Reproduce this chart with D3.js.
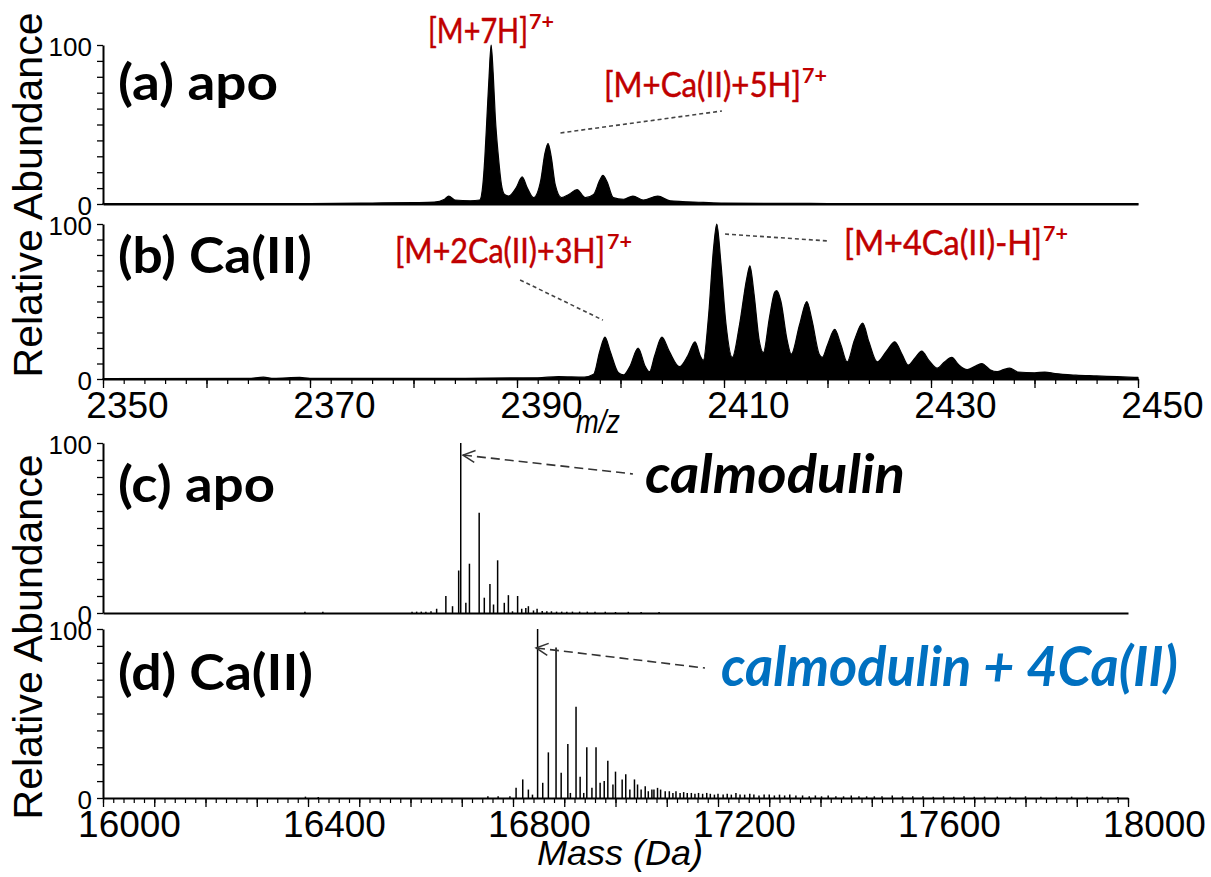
<!DOCTYPE html>
<html><head><meta charset="utf-8">
<script src="https://cdn.jsdelivr.net/npm/d3@7"></script>
<style>
html,body{margin:0;padding:0;background:#fff;}
svg{display:block;background:#fff;}
</style></head><body>
<svg id="chart" width="1211" height="877"></svg>
<script>
// ---------------- DATA ----------------
// (a) apo, profile spectrum [m/z, relative abundance %]
const apoProfile = [
  [2350,0.2],[2360,0.3],[2370,0.3],[2376,0.6],[2380,0.9],[2382,1.2],[2383.0,3],[2383.4,5],
  [2384.0,2.5],[2385.5,2],[2386.4,2.5],[2386.7,12],[2386.9,30],[2387.1,55],[2387.3,80],[2387.5,100],[2387.7,82],[2387.9,55],
  [2388.2,30],[2388.5,12],[2388.8,6],[2389.2,5],[2389.9,10],[2390.5,17],[2391.0,10],[2391.6,4],
  [2392.3,15],[2392.7,32],[2393.0,38],[2393.3,30],[2393.7,12],[2394.3,4],[2395.0,6],
  [2395.8,9],[2396.6,4],[2397.4,6],[2398.0,15],[2398.3,18],[2398.7,14],[2399.3,4],
  [2400.3,3],[2401.2,5],[2402.2,2.5],[2403.6,5],[2404.8,2],[2406,1.5],[2408,1],
  [2410,0.6],[2420,0.3],[2430,0.2],[2450,0.2]
];
// (b) Ca(II), profile spectrum [m/z, relative abundance %]
const caProfile = [
  [2350,0.3],[2364,0.4],[2365.5,1.2],[2366.5,0.4],[2369,1],[2370,0.4],[2385,0.5],
  [2392,0.8],[2394,1.5],[2396.5,1.2],[2397.4,3],[2398.0,18],[2398.5,27],[2399.0,18],
  [2399.8,4],[2400.3,2.6],[2400.9,8],[2401.7,20],[2402.4,8],[2402.8,4.7],[2403.3,15],
  [2404.0,27],[2404.7,18],[2405.7,8],[2406.5,15],[2407.2,24],[2407.7,15],[2408.0,12],
  [2408.5,40],[2409.0,85],[2409.3,100],[2409.7,75],[2410.2,35],[2410.8,14],[2411.5,35],
  [2412.2,65],[2412.5,73],[2412.9,55],[2413.4,25],[2413.8,17],[2414.4,40],[2414.9,56],
  [2415.1,57],[2415.5,50],[2416.1,25],[2416.5,16],[2417.3,35],[2418.0,50],[2418.5,38],
  [2419.2,16],[2419.5,14],[2420.0,22],[2420.7,32],[2421.3,22],[2421.9,11],[2422.6,25],
  [2423.4,36],[2424.0,24],[2424.8,11],[2425.7,18],[2426.5,24],[2427.2,16],[2427.8,9],
  [2428.5,14],[2429.1,18],[2429.8,12],[2430.6,7],[2431.3,11],[2432.0,14],[2432.7,9],
  [2433.5,6],[2434.2,8],[2434.9,10],[2435.7,6],[2436.4,4.7],[2437.0,6],[2437.6,7],
  [2438.4,4.5],[2440,4],[2441,4.5],[2442,3.5],[2444,2.5],[2446,2],[2448,1.5],[2450,1]
];
// (c) apo, deconvoluted masses [Da, relative abundance %]
const apoMasses = [
  [16394,0.8],[16429,0.8],[16603,0.8],[16612,0.8],[16621,0.8],[16630,0.8],[16640,1],
  [16651,2.5],[16669,10],[16682,4],[16694,25],[16698,100],[16708,6],[16715,29],
  [16734,59],[16744,9],[16755,17],[16762,5],[16770,31],[16783,6],[16791,10.5],
  [16799,1],[16809,10],[16817,2.5],[16825,3],[16830,4],[16840,1.5],[16847,2.5],
  [16857,1.2],[16866,1],[16875,1],[16885,0.8],[16895,0.8],[16905,0.8],[16916,0.8],
  [16930,0.8],[16945,0.8],[16960,0.7],[16980,0.8],[17000,0.6],[17025,0.7],[17050,0.6],[17085,0.6]
];
// (d) Ca(II), deconvoluted masses [Da, relative abundance %]
const caMasses = [
  [16395,0.8],[16420,0.6],[16751,1],[16771,1],[16794,1],[16806,6],[16819,11],[16830,5],
  [16838,2],[16848,100],[16858,9],[16869,27],[16884,89],[16894,15],[16907,32],[16912,3],
  [16923,54],[16931,12.6],[16938,3],[16944,30],[16954,6],[16962,30],[16970,9],[16978,10],
  [16985,22],[16995,8],[17000,15.6],[17013,11],[17020,14],[17028,5],[17037,11],[17043,8],
  [17050,5],[17058,7],[17064,4],[17071,5],[17075,5],[17082,6],[17088,5],[17097,4],
  [17105,4],[17112,3],[17118,4],[17126,3],[17133,3.5],[17140,3],[17148,3],[17155,2.5],
  [17162,3],[17170,2.5],[17178,3],[17185,2.5],[17193,2],[17200,2.5],[17210,2],[17218,2.5],
  [17226,2],[17235,3],[17243,2],[17252,2],[17262,2.5],[17270,2],[17280,1.5],[17290,2],
  [17300,2],[17310,1.5],[17320,2],[17330,1.5],[17340,2],[17352,1.5],[17365,1.5],[17378,1],
  [17390,1.5],[17402,1],[17415,1.5],[17430,1],[17445,1],[17460,1.5],[17475,1],[17490,1],
  [17505,1],[17520,1],[17540,1.5],[17560,1],[17580,1],[17600,1],[17620,0.8],[17640,1],
  [17660,0.8],[17680,1],[17700,0.8],[17720,0.8],[17745,0.8],[17770,0.8],[17800,1],
  [17830,0.8],[17860,0.8],[17890,0.8],[17920,0.8],[17950,0.8],[17980,0.6]
];
const mzTickLabels = [2350, 2370, 2390, 2410, 2430, 2450];
const massTickLabels = [16000, 16400, 16800, 17200, 17600, 18000];
const yTickLabels = [0, 100];
const panelTitles = ["(a) apo", "(b) Ca(II)", "(c) apo", "(d) Ca(II)"];
const ionLabels = ["[M+7H]", "[M+Ca(II)+5H]", "[M+2Ca(II)+3H]", "[M+4Ca(II)-H]"];
const chargeLabel = "7+";
const speciesLabels = ["calmodulin", "calmodulin + 4Ca(II)"];
const axisTitles = ["Relative Abundance", "m/z", "Mass (Da)"];

// ---------------- CHART ----------------
const svg = d3.select("#chart");
const RED = "#c00000", BLUE = "#0070c0";
const NUMFONT = "'Liberation Sans', Arial, sans-serif";
const CAL = "Lato, 'Open Sans', sans-serif";

const xMz = d3.scaleLinear().domain([2350, 2450]).range([103, 1138]);
const xMass = d3.scaleLinear().domain([16000, 18000]).range([103, 1128]);
const yA = d3.scaleLinear().domain([0, 100]).range([204, 45]);
const yB = d3.scaleLinear().domain([0, 100]).range([379, 224]);
const yC = d3.scaleLinear().domain([0, 100]).range([613, 443]);
const yD = d3.scaleLinear().domain([0, 100]).range([798, 629]);

// profile spectra
function profile(data, y) {
  const area = d3.area().curve(d3.curveMonotoneX)
    .x(d => xMz(d[0])).y0(y(0)).y1(d => y(d[1]));
  svg.append("path").datum(data).attr("d", area)
    .attr("fill", "#000").attr("stroke", "#000").attr("stroke-width", 1.2)
    .attr("stroke-linejoin", "round");
}
profile(apoProfile, yA);
profile(caProfile, yB);

// stick spectra
function sticks(data, y) {
  svg.append("g").selectAll("line").data(data).join("line")
    .attr("x1", d => xMass(d[0])).attr("x2", d => xMass(d[0]))
    .attr("y1", y(0)).attr("y2", d => y(d[1]))
    .attr("stroke", "#000").attr("stroke-width", 1.5);
}
sticks(apoMasses, yC);
sticks(caMasses, yD);

// y axes
function yAxis(y) {
  const g = svg.append("g").attr("transform", "translate(103,0)")
    .call(d3.axisLeft(y).tickValues(d3.range(0, 101, 10)).tickSize(6).tickSizeOuter(0)
      .tickPadding(5).tickFormat(d => yTickLabels.includes(d) ? d : ""));
  g.select(".domain").attr("stroke", "#000").attr("stroke-width", 2);
  g.selectAll(".tick line").attr("stroke", "#000").attr("stroke-width", 1.3);
  g.selectAll(".tick text").attr("font-family", NUMFONT).attr("font-size", 26)
    .attr("fill", "#000").attr("dy", "0.42em");
}
[yA, yB, yC, yD].forEach(yAxis);

// x axes
function plainBase(x, y) {
  const g = svg.append("g").attr("transform", `translate(0,${y(0)})`)
    .call(d3.axisBottom(x).tickValues([]).tickSizeOuter(0));
  g.select(".domain").attr("stroke", "#000").attr("stroke-width", 2);
}
plainBase(xMz, yA);
plainBase(xMass, yC);

function tickedAxis(x, y, majorStep, minorStep, labels, dx) {
  const [d0, d1] = x.domain();
  const gMin = svg.append("g").attr("transform", `translate(0,${y(0)})`)
    .call(d3.axisBottom(x).tickValues(d3.range(d0, d1 + 0.001, minorStep)).tickSize(5).tickFormat(""));
  gMin.select(".domain").remove();
  gMin.selectAll(".tick line").attr("stroke", "#000").attr("stroke-width", 1.2);
  const g = svg.append("g").attr("transform", `translate(0,${y(0)})`)
    .call(d3.axisBottom(x).tickValues(d3.range(d0, d1 + 0.001, majorStep)).tickSize(9)
      .tickSizeOuter(0).tickFormat(d => labels.includes(d) ? d : ""));
  g.select(".domain").attr("stroke", "#000").attr("stroke-width", 2);
  g.selectAll(".tick line").attr("stroke", "#000").attr("stroke-width", 1.3);
  g.selectAll(".tick text").attr("font-family", NUMFONT).attr("font-size", 37)
    .attr("fill", "#000").attr("y", 13).attr("dx", dx);
}
tickedAxis(xMz, yB, 10, 2, mzTickLabels, 24);
tickedAxis(xMass, yD, 100, 20, massTickLabels, 26);

// axis titles
[[42, 195], [42, 637]].forEach(([x, cy]) => {
  svg.append("text").attr("transform", `translate(${x},${cy}) rotate(-90)`)
    .attr("text-anchor", "middle").attr("font-family", NUMFONT).attr("font-size", 40)
    .attr("textLength", 365).attr("lengthAdjust", "spacingAndGlyphs")
    .attr("fill", "#000").text(axisTitles[0]);
});
svg.append("text").attr("x", 576).attr("y", 433).attr("font-family", NUMFONT)
  .attr("font-style", "italic").attr("font-size", 34).attr("textLength", 44)
  .attr("lengthAdjust", "spacingAndGlyphs").text(axisTitles[1]);
svg.append("text").attr("x", 537).attr("y", 865).attr("font-family", NUMFONT)
  .attr("font-style", "italic").attr("font-size", 35).attr("textLength", 166)
  .attr("lengthAdjust", "spacingAndGlyphs").text(axisTitles[2]);

// panel titles
[[118, 100, 160], [118, 273, 194], [118, 502, 157], [118, 690, 195]].forEach(([x, y, len], i) => {
  svg.append("text").attr("x", x).attr("y", y).attr("font-family", CAL)
    .attr("font-weight", 700).attr("font-size", 50).attr("textLength", len)
    .attr("lengthAdjust", "spacingAndGlyphs").attr("fill", "#000").text(panelTitles[i]);
});

// ion labels (red) with superscript charge
const ionPos = [
  { x: 428, y: 43, len: 100, sx: 529, sy: 29 },
  { x: 604, y: 97, len: 197, sx: 802, sy: 83 },
  { x: 395, y: 263, len: 210, sx: 607, sy: 249 },
  { x: 844, y: 255, len: 198, sx: 1043, sy: 241 }
];
ionPos.forEach((p, i) => {
  svg.append("text").attr("x", p.x).attr("y", p.y).attr("font-family", CAL)
    .attr("font-size", 35).attr("textLength", p.len).attr("lengthAdjust", "spacingAndGlyphs")
    .attr("stroke", RED).attr("stroke-width", 0.5)
    .attr("fill", RED).text(ionLabels[i]);
  svg.append("text").attr("x", p.sx).attr("y", p.sy).attr("font-family", CAL)
    .attr("font-weight", 700).attr("font-size", 21).attr("textLength", 25)
    .attr("lengthAdjust", "spacingAndGlyphs").attr("fill", RED).text(chargeLabel);
});

// leader lines (data space)
function leader(x, y, p0, p1) {
  svg.append("line").attr("x1", x(p0[0])).attr("y1", y(p0[1]))
    .attr("x2", x(p1[0])).attr("y2", y(p1[1]))
    .attr("stroke", "#444").attr("stroke-width", 1.6).attr("stroke-dasharray", "4,3");
}
leader(xMz, yA, [2394.2, 44.7], [2409.8, 58.5]);
leader(xMz, yB, [2390.3, 63.9], [2398.3, 38]);
leader(xMz, yB, [2410.1, 93.5], [2420.2, 89]);

// arrows for species labels
const defs = svg.append("defs");
defs.append("marker").attr("id", "chev").attr("markerUnits", "userSpaceOnUse")
  .attr("markerWidth", 20).attr("markerHeight", 20).attr("viewBox", "-2 -10 20 20")
  .attr("refX", 0).attr("refY", 0).attr("orient", "auto")
  .append("path").attr("d", "M12,-6 L0,0 L12,6").attr("fill", "none")
  .attr("stroke", "#333").attr("stroke-width", 1.5);
function arrow(x, y, tip, end) {
  svg.append("line").attr("x1", x(tip[0])).attr("y1", y(tip[1]))
    .attr("x2", x(end[0])).attr("y2", y(end[1]))
    .attr("stroke", "#333").attr("stroke-width", 1.6).attr("stroke-dasharray", "9,5")
    .attr("marker-start", "url(#chev)");
}
arrow(xMass, yC, [16702.4, 92.9], [17034, 81.8]);
arrow(xMass, yD, [16845, 88.8], [17174.6, 76.9]);

svg.append("text").attr("x", 645).attr("y", 493).attr("font-family", CAL)
  .attr("font-weight", 700).attr("font-style", "italic").attr("font-size", 54)
  .attr("textLength", 260).attr("lengthAdjust", "spacingAndGlyphs")
  .attr("fill", "#000").text(speciesLabels[0]);
svg.append("text").attr("x", 721).attr("y", 686).attr("font-family", CAL)
  .attr("font-weight", 700).attr("font-style", "italic").attr("font-size", 56)
  .attr("textLength", 457).attr("lengthAdjust", "spacingAndGlyphs")
  .attr("fill", BLUE).text(speciesLabels[1]);
</script></body></html>
